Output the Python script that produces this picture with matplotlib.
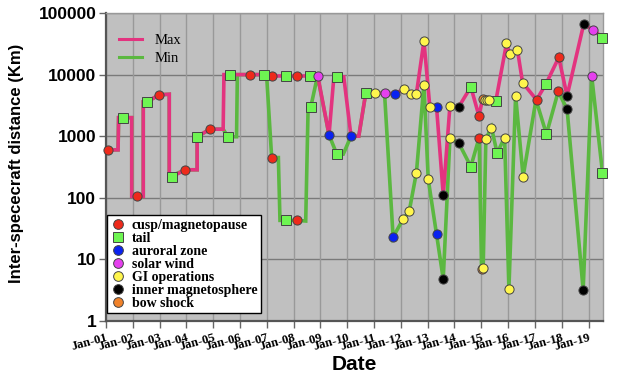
import matplotlib
matplotlib.use("Agg")
import matplotlib.pyplot as plt
from matplotlib.lines import Line2D

# ---------------- data ----------------
# (decimal year, distance km, region code) ; '' = vertex without marker
max_line = [
    (2001.06, 600, 'C'), (2001.45, 600, ''), (2001.47, 2000, ''), (2001.62, 2000, 'T'),
    (2001.96, 2000, ''), (2001.96, 105, ''), (2002.14, 105, 'C'), (2002.39, 105, ''),
    (2002.39, 3600, ''), (2002.52, 3600, 'T'), (2002.99, 4700, 'C'), (2003.36, 4800, ''),
    (2003.36, 220, ''), (2003.45, 220, 'T'), (2003.96, 285, 'C'), (2004.40, 285, ''),
    (2004.40, 980, 'T'), (2004.88, 1300, 'C'), (2005.37, 1300, ''), (2005.40, 10000, ''),
    (2005.62, 10000, 'T'), (2006.37, 10000, 'C'), (2006.90, 10000, 'T'), (2007.19, 9500, 'C'),
    (2007.71, 9500, 'T'), (2008.12, 9500, 'C'), (2008.61, 9500, 'T'), (2008.90, 9500, 'S'),
    (2009.32, 1050, 'A'), (2009.50, 9200, ''), (2009.62, 9200, 'T'), (2009.87, 9200, ''),
    (2010.14, 1000, 'A'), (2010.43, 1000, ''), (2010.69, 5000, 'T'), (2011.04, 5000, 'G'),
    (2011.39, 5000, 'S'), (2011.78, 4900, 'A'), (2012.11, 5800, 'G'), (2012.36, 4900, 'G'),
    (2012.58, 4900, 'G'), (2012.86, 35000, 'G'), (2013.08, 3000, 'G'), (2013.33, 3000, 'A'),
    (2013.58, 112, 'I'), (2013.83, 3100, 'G'), (2014.16, 3000, 'I'), (2014.61, 6300, 'T'),
    (2014.91, 2150, 'C'), (2015.05, 4000, 'B'), (2015.14, 3850, 'G'), (2015.22, 3850, 'G'),
    (2015.29, 3850, 'G'), (2015.54, 3700, 'T'), (2015.94, 32000, 'G'), (2016.06, 21600, 'G'),
    (2016.35, 25000, 'G'), (2016.54, 7400, 'G'), (2017.06, 3900, 'C'), (2017.41, 7000, 'T'),
    (2017.89, 19000, 'C'), (2018.20, 4500, 'I'), (2018.82, 66000, 'I'), (2019.17, 53000, 'S'),
    (2019.52, 40000, 'T'),
]

min_line = [
    (2001.06, 600, ''), (2001.45, 600, ''), (2001.47, 2000, ''), (2001.96, 2000, ''),
    (2001.96, 105, ''), (2002.39, 105, ''), (2002.39, 3600, ''), (2002.52, 3600, ''),
    (2002.99, 4700, ''), (2003.36, 4800, ''), (2003.36, 220, ''), (2003.96, 285, ''),
    (2004.40, 285, ''), (2004.40, 980, ''), (2004.88, 1300, ''), (2005.37, 1300, ''),
    (2005.55, 980, 'T'), (2005.87, 980, ''), (2005.90, 10000, ''), (2006.99, 10000, ''),
    (2007.18, 450, 'C'), (2007.43, 450, ''), (2007.49, 43, ''), (2007.70, 43, 'T'),
    (2008.12, 43, 'C'), (2008.45, 42, ''), (2008.54, 3000, ''), (2008.64, 3000, 'T'),
    (2008.89, 9500, ''), (2009.32, 1050, ''), (2009.61, 510, 'T'), (2009.85, 510, ''),
    (2010.14, 1000, ''), (2010.43, 1000, ''), (2010.69, 5000, ''), (2011.39, 5000, ''),
    (2011.71, 23, 'A'), (2012.08, 45, 'G'), (2012.31, 60, 'G'), (2012.58, 257, 'G'),
    (2012.86, 6900, 'G'), (2013.02, 201, 'G'), (2013.33, 25.6, 'A'), (2013.58, 4.8, 'I'),
    (2013.83, 930, 'G'), (2014.16, 773, 'I'), (2014.61, 321, 'T'), (2014.92, 952, 'C'),
    (2015.01, 6.9, 'B'), (2015.07, 7.3, 'G'), (2015.17, 906, 'G'), (2015.38, 1384, 'G'),
    (2015.59, 531, 'T'), (2015.87, 952, 'G'), (2016.03, 3.3, 'G'), (2016.28, 4530, 'G'),
    (2016.56, 221, 'G'), (2017.04, 3900, ''), (2017.43, 1080, 'T'), (2017.87, 5320, 'C'),
    (2018.20, 2750, 'I'), (2018.80, 3.2, 'I'), (2019.12, 9340, 'S'), (2019.52, 257, 'T'),
]

categories = ['C', 'T', 'A', 'S', 'G', 'I', 'B']
category_labels = ['cusp/magnetopause', 'tail', 'auroral zone', 'solar wind',
                   'GI operations', 'inner magnetosphere', 'bow shock']
year_ticks = list(range(2001, 2020))
year_labels = ['Jan-%02d' % (y % 100) for y in year_ticks]
y_ticks = [1, 10, 100, 1000, 10000, 100000]
y_labels = ['1', '10', '100', '1000', '10000', '100000']

# ---------------- style ----------------
cat_style = {
    'C': dict(marker='o', color='#ee2a1b'),
    'T': dict(marker='s', color='#6ef552'),
    'A': dict(marker='o', color='#0a22f0'),
    'S': dict(marker='o', color='#e540ee'),
    'G': dict(marker='o', color='#fff64d'),
    'I': dict(marker='o', color='#000000'),
    'B': dict(marker='o', color='#f0822a'),
}
draw_order = ['B', 'C', 'T', 'A', 'S', 'G', 'I']
pink = '#e3337f'
green = '#5bb840'

fig = plt.figure(figsize=(6.25, 3.76), dpi=100)
ax = fig.add_axes([106/625, 1-321/376, (603-106)/625, (321-13)/376])
ax.set_facecolor('#c0c0c0')

ax.set_yscale('log')
ax.set_ylim(1, 100000)
ax.set_xlim(2001.0, 2019.54)

for y in y_ticks:
    ax.axhline(y, color='#7a7a7a', lw=1.0, zorder=1)
for x in year_ticks:
    ax.axvline(x, color='#999999', lw=1.0, zorder=1)

mx = [p[0] for p in max_line]; my = [p[1] for p in max_line]
nx = [p[0] for p in min_line]; ny = [p[1] for p in min_line]
ax.plot(nx, ny, color=green, lw=2.6, zorder=3, solid_joinstyle='miter')
ax.plot(mx, my, color=pink, lw=2.6, zorder=4, solid_joinstyle='miter')

for series in (min_line, max_line):
    for cat in draw_order:
        xs = [p[0] for p in series if p[2] == cat]
        ys = [p[1] for p in series if p[2] == cat]
        if xs:
            st = cat_style[cat]
            ax.plot(xs, ys, linestyle='none', marker=st['marker'], markersize=6.6,
                    markerfacecolor=st['color'], markeredgecolor='#444444',
                    markeredgewidth=0.7, zorder=5, clip_on=False)

ax.set_yticks(y_ticks)
ax.set_yticklabels(y_labels)
ax.yaxis.set_minor_locator(matplotlib.ticker.NullLocator())
ax.set_xticks(year_ticks)
ax.set_xticklabels(year_labels)
for lab in ax.get_yticklabels():
    lab.set_fontfamily('Liberation Sans'); lab.set_fontweight('bold'); lab.set_fontsize(12.5)
for lab in ax.get_xticklabels():
    lab.set_fontfamily('Liberation Serif'); lab.set_fontweight('bold'); lab.set_fontsize(9.2)
    lab.set_rotation(15); lab.set_ha('right'); lab.set_rotation_mode('anchor')
ax.tick_params(axis='both', direction='out', length=5, color='#666666', width=1)
ax.tick_params(axis='x', pad=3)
ax.tick_params(axis='y', pad=2)

for s in ('left', 'bottom'):
    ax.spines[s].set_color('#555555'); ax.spines[s].set_linewidth(1.6)
for s in ('top', 'right'):
    ax.spines[s].set_color('#999999'); ax.spines[s].set_linewidth(1.0)

# line legend
lh = [Line2D([], [], color=pink, lw=2.2), Line2D([], [], color=green, lw=2.2)]
leg1 = ax.legend(lh, ['Max', 'Min'], loc='upper left', bbox_to_anchor=(0.0, 0.975),
                 frameon=False, prop=dict(family='Liberation Serif', size=10.5),
                 handlelength=1.6, handletextpad=0.8, labelspacing=0.35)
ax.add_artist(leg1)

# marker legend
mh = [Line2D([], [], linestyle='none', marker=cat_style[c]['marker'], markersize=7,
             markerfacecolor=cat_style[c]['color'], markeredgecolor='#444444',
             markeredgewidth=0.7) for c in categories]
leg2 = ax.legend(mh, category_labels, loc='lower left', bbox_to_anchor=(0.003, 0.026),
                 frameon=True, fancybox=False, framealpha=1.0, edgecolor='black',
                 prop=dict(family='Liberation Serif', weight='bold', size=10),
                 handlelength=1.0, handletextpad=0.5, labelspacing=0.0,
                 borderpad=0.25, borderaxespad=0.0)
leg2.get_frame().set_linewidth(1.0)
leg2.set_zorder(10)

fig.text(17/625, 1-163/376, 'Inter-spececraft distance (Km)', rotation=90,
         ha='center', va='center', fontfamily='Liberation Sans', fontweight='bold',
         fontsize=12)
fig.text(354/625, 1-365/376, 'Date', ha='center', va='center',
         fontfamily='Liberation Sans', fontweight='bold', fontsize=15)

fig.savefig('out.png', dpi=100)
